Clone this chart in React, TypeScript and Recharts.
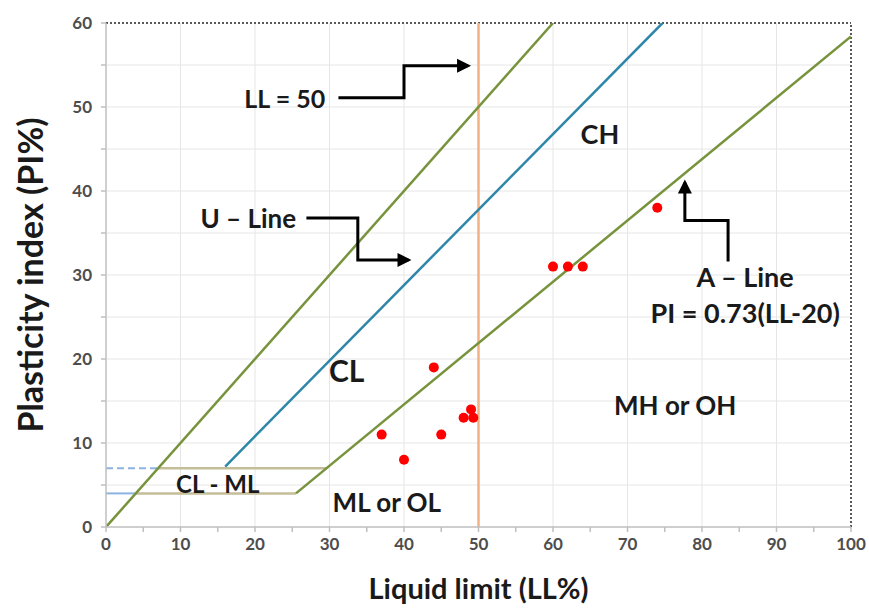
import { ComposedChart, Line, Scatter, XAxis, YAxis, CartesianGrid, ReferenceLine } from "recharts";

// axis ticks (labels only on multiples of 10)
const xTicks = [0, 5, 10, 15, 20, 25, 30, 35, 40, 45, 50, 55, 60, 65, 70, 75, 80, 85, 90, 95, 100];
const yTicks = [0, 5, 10, 15, 20, 25, 30, 35, 40, 45, 50, 55, 60];
const xGrid = [10, 20, 30, 40, 50, 60, 70, 80, 90];
const yGrid = [5, 10, 15, 20, 25, 30, 35, 40, 45, 50, 55];

// tested soil samples (LL, PI)
const samples = [
    { x: 37, y: 11 },
    { x: 40, y: 8 },
    { x: 44, y: 19 },
    { x: 45, y: 11 },
    { x: 48, y: 13 },
    { x: 49, y: 14 },
    { x: 49.3, y: 13 },
    { x: 60, y: 31 },
    { x: 62, y: 31 },
    { x: 64, y: 31 },
    { x: 74, y: 38 },
];

// classification lines
const limitLine = [{ x: 0, y: 0 }, { x: 60, y: 60 }];
const uLine = [{ x: 16, y: 7.2 }, { x: 74.7, y: 60 }];
const aLine = [{ x: 25.5, y: 4 }, { x: 100, y: 58.4 }];
const clmlUpper = [{ x: 7, y: 7 }, { x: 29.6, y: 7 }];
const clmlLower = [{ x: 4, y: 4 }, { x: 25.5, y: 4 }];
const upperStub = [{ x: 0, y: 7 }, { x: 7, y: 7 }];
const lowerStub = [{ x: 0, y: 4 }, { x: 4, y: 4 }];

// callout arrows, last point carries the head
const arrowLL50 = [
    { x: 31.2, y: 51.1 },
    { x: 40, y: 51.1 },
    { x: 40, y: 54.9 },
    { x: 48.6, y: 54.9, head: "right" },
];
const arrowULine = [
    { x: 26.9, y: 36.8 },
    { x: 33.8, y: 36.8 },
    { x: 33.8, y: 31.8 },
    { x: 40.6, y: 31.8, head: "right" },
];
const arrowALine = [
    { x: 83.5, y: 31.6 },
    { x: 83.5, y: 36.5 },
    { x: 77.7, y: 36.5 },
    { x: 77.7, y: 41.0, head: "up" },
];

// zone and callout texts
const notes = [
    { x: 66.3, y: 46.9, text: "CH", size: 27 },
    { x: 32.3, y: 18.7, text: "CL", size: 30 },
    { x: 76.4, y: 14.5, text: "MH or OH", size: 26 },
    { x: 37.7, y: 3.0, text: "ML or OL", size: 26 },
    { x: 15.0, y: 5.2, text: "CL - ML", size: 24 },
    { x: 24.0, y: 51.1, text: "LL = 50", size: 25 },
    { x: 19.1, y: 36.8, text: "U \u2013 Line", size: 26 },
    { x: 85.8, y: 29.8, text: "A \u2013 Line", size: 27 },
    { x: 85.8, y: 25.5, text: "PI = 0.73(LL-20)", size: 27 },
];

const FONT = "Lato, 'Open Sans', sans-serif";
const GREEN = "#77933c";
const BLUE = "#2e86a8";
const KHAKI = "#c4bd97";
const STUB = "#8db3e2";

const tickFmt = (v: number) => (v % 10 === 0 ? String(v) : "");

const ArrowDot = (props: any) => {
    const { cx, cy, payload, index } = props;
    if (!payload || !payload.head) return <g key={`a-${index}`} />;
    const pts =
        payload.head === "right"
            ? `${cx - 11},${cy - 7} ${cx + 3},${cy} ${cx - 11},${cy + 7}`
            : `${cx - 7},${cy + 11} ${cx},${cy - 3} ${cx + 7},${cy + 11}`;
    return <polygon key={`a-${index}`} points={pts} fill="#000" />;
};

const NoteShape = (props: any) => {
    const { cx, cy, payload } = props;
    return (
        <text
            x={cx}
            y={cy}
            textAnchor="middle"
            dominantBaseline="central"
            fontFamily={FONT}
            fontWeight={700}
            fontSize={payload.size}
            fill="#1a1a1a"
        >
            {payload.text}
        </text>
    );
};

const SampleShape = (props: any) => <circle cx={props.cx} cy={props.cy} r={5} fill="#ff0000" />;

const seg = (data: any[], color: string, width: number, key: string, dash?: string) => (
    <Line
        key={key}
        data={data}
        dataKey="y"
        type="linear"
        stroke={color}
        strokeWidth={width}
        strokeDasharray={dash}
        dot={false}
        activeDot={false}
        isAnimationActive={false}
    />
);

const arrow = (data: any[], key: string) => (
    <Line
        key={key}
        data={data}
        dataKey="y"
        type="linear"
        stroke="#000"
        strokeWidth={3}
        strokeLinejoin="miter"
        dot={<ArrowDot />}
        activeDot={false}
        isAnimationActive={false}
    />
);

export default function App() {
    return (
        <div style={{ position: "absolute", left: 0, top: 0, width: 869, height: 608, background: "#fff" }}>
            <ComposedChart width={869} height={608} margin={{ top: 23, right: 18, left: 0, bottom: 0 }}>
                <CartesianGrid
                    stroke="#e6e6e6"
                    strokeWidth={1}
                    verticalValues={xGrid}
                    horizontalValues={yGrid}
                />
                <XAxis
                    type="number"
                    dataKey="x"
                    domain={[0, 100]}
                    ticks={xTicks}
                    tickFormatter={tickFmt}
                    interval={0}
                    height={81}
                    allowDataOverflow
                    stroke="#bfbfbf"
                    strokeWidth={1.5}
                    tickSize={5}
                    tickMargin={6}
                    tick={{ fill: "#4d4d4d", fontSize: 17, fontWeight: 700, fontFamily: FONT }}
                    label={{
                        content: (p: any) => {
                            const vb = p.viewBox;
                            return (
                                <text
                                    x={vb.x + vb.width / 2}
                                    y={vb.y + vb.height - 21}
                                    textAnchor="middle"
                                    dominantBaseline="central"
                                    fontFamily={FONT}
                                    fontWeight={700}
                                    fontSize={29}
                                    fill="#1a1a1a"
                                >
                                    Liquid limit (LL%)
                                </text>
                            );
                        },
                    }}
                />
                <YAxis
                    type="number"
                    dataKey="y"
                    domain={[0, 60]}
                    ticks={yTicks}
                    tickFormatter={tickFmt}
                    interval={0}
                    width={106}
                    allowDataOverflow
                    stroke="#bfbfbf"
                    strokeWidth={1.5}
                    tickSize={5}
                    tickMargin={9}
                    tick={{ fill: "#4d4d4d", fontSize: 17, fontWeight: 700, fontFamily: FONT }}
                    label={{
                        content: (p: any) => {
                            const vb = p.viewBox;
                            const cy = vb.y + vb.height / 2;
                            return (
                                <text
                                    x={29}
                                    y={cy}
                                    transform={`rotate(-90, 29, ${cy})`}
                                    textAnchor="middle"
                                    dominantBaseline="central"
                                    fontFamily={FONT}
                                    fontWeight={700}
                                    fontSize={34}
                                    fill="#1a1a1a"
                                >
                                    Plasticity index (PI%)
                                </text>
                            );
                        },
                    }}
                />
                <ReferenceLine y={60} stroke="#595959" strokeWidth={2} strokeDasharray="2 2" />
                <ReferenceLine x={100} stroke="#595959" strokeWidth={2} strokeDasharray="2 2" />
                <ReferenceLine x={50} stroke="#f4b183" strokeWidth={2.5} />
                {seg(upperStub, STUB, 2, "us", "7 4")}
                {seg(lowerStub, STUB, 2, "ls")}
                {seg(clmlUpper, KHAKI, 2.5, "cu")}
                {seg(clmlLower, KHAKI, 2.5, "cl")}
                {seg(limitLine, GREEN, 2.5, "ll")}
                {seg(uLine, BLUE, 2.5, "ul")}
                {seg(aLine, GREEN, 2.5, "al")}
                {arrow(arrowLL50, "a1")}
                {arrow(arrowULine, "a2")}
                {arrow(arrowALine, "a3")}
                <Scatter data={samples} dataKey="y" shape={<SampleShape />} isAnimationActive={false} />
                <Scatter data={notes} dataKey="y" shape={<NoteShape />} isAnimationActive={false} />
            </ComposedChart>
        </div>
    );
}
